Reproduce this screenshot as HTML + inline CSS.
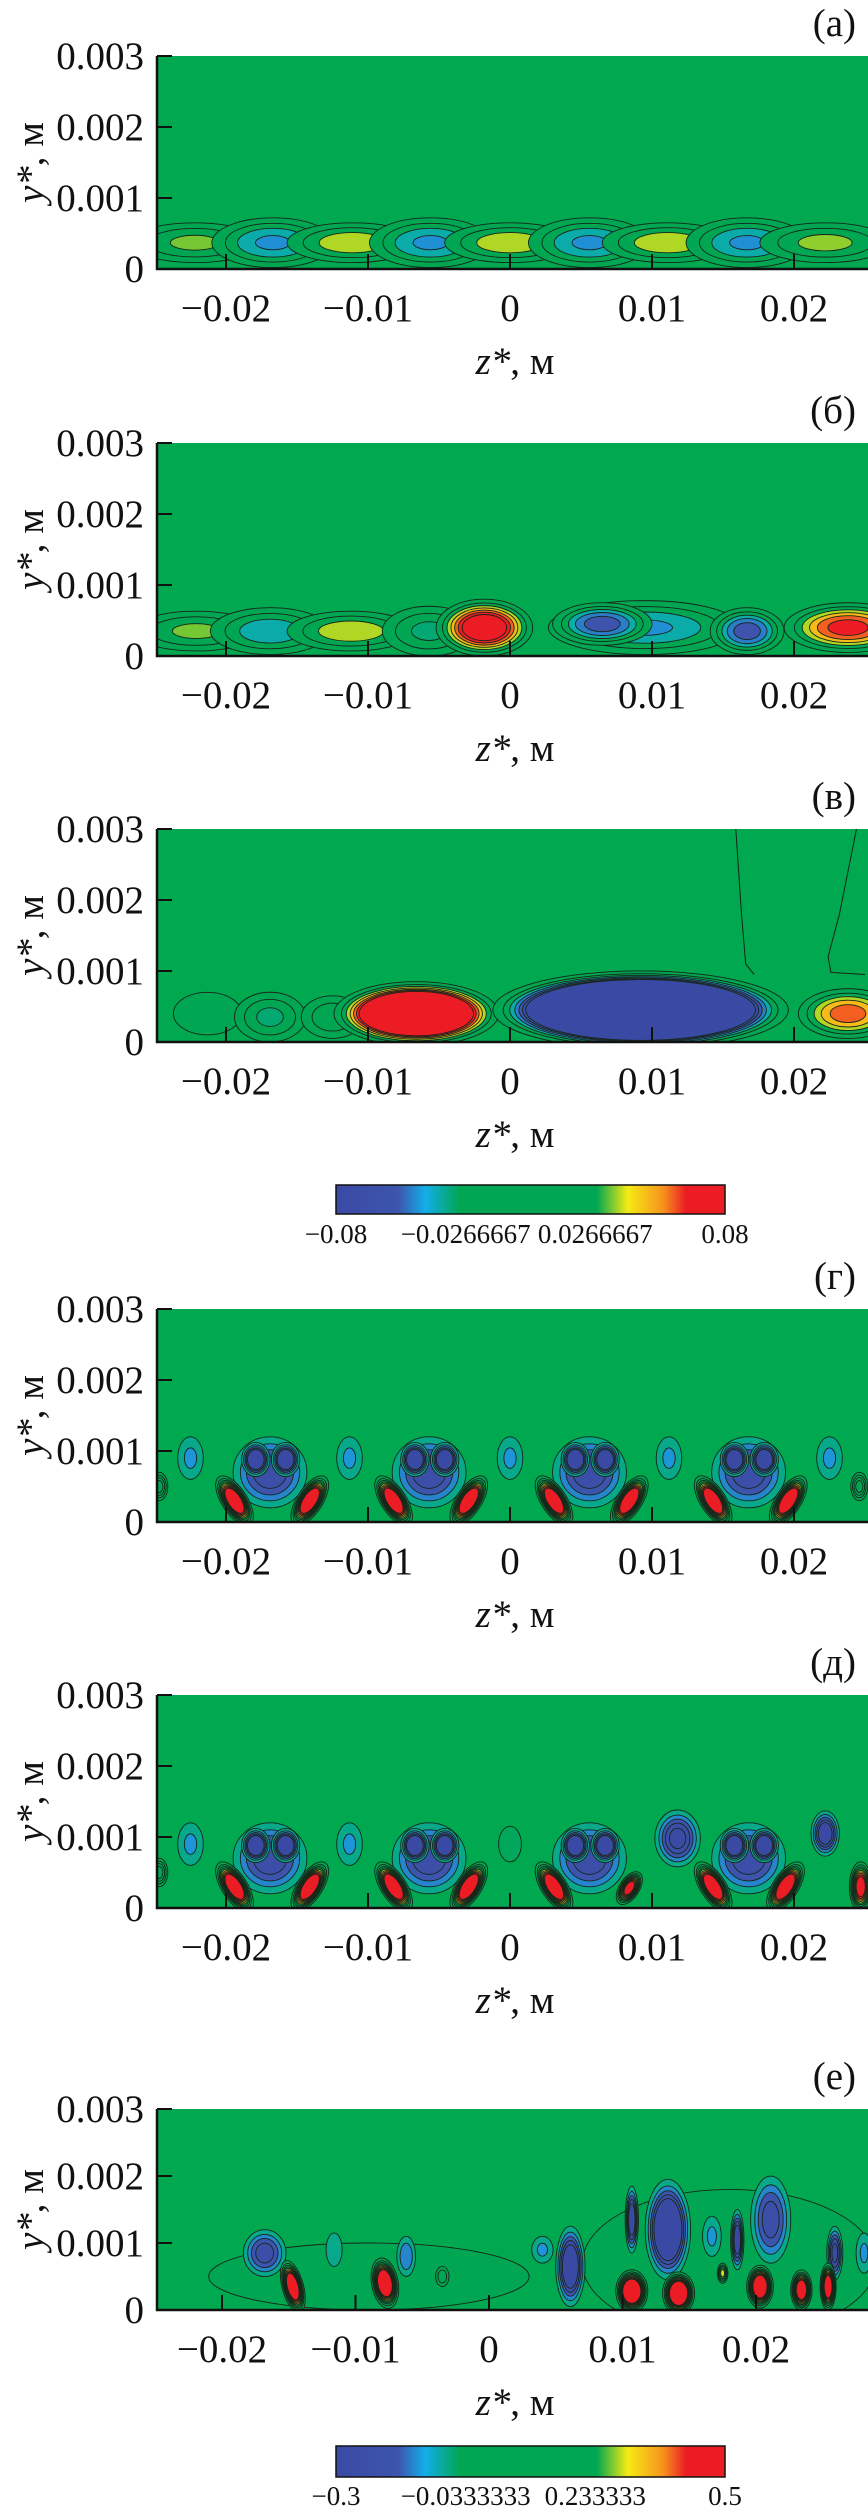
<!DOCTYPE html>
<html><head><meta charset="utf-8">
<style>
html,body{margin:0;padding:0;background:#fff;}
svg{display:block;}
text{font-family:"Liberation Serif",serif;fill:#111;}
</style></head>
<body>
<svg id="fig" width="868" height="2513" viewBox="0 0 868 2513" xmlns="http://www.w3.org/2000/svg">
<defs>
<linearGradient id="cbgrad" x1="0" x2="1" y1="0" y2="0">
<stop offset="0" stop-color="#3a4aa4"/><stop offset="0.16" stop-color="#3d55ad"/><stop offset="0.23" stop-color="#12aee8"/><stop offset="0.32" stop-color="#00a651"/><stop offset="0.67" stop-color="#00a651"/><stop offset="0.75" stop-color="#f5ea14"/><stop offset="0.84" stop-color="#f7941d"/><stop offset="0.9" stop-color="#ec1c24"/><stop offset="1" stop-color="#ec1c24"/>
</linearGradient>
</defs>
</svg>
<script>
// ---------- tick data ----------
const yTicks = [0, 0.001, 0.002, 0.003];
const yTickLabels = ["0", "0.001", "0.002", "0.003"];
const zTicks = [-0.02, -0.01, 0, 0.01, 0.02];
const zTickLabels = ["\u22120.02", "\u22120.01", "0", "0.01", "0.02"];
const cb1Values = [-0.08, -0.0266667, 0.0266667, 0.08];
const cb1Labels = ["\u22120.08", "\u22120.0266667", "0.0266667", "0.08"];
const cb2Values = [-0.3, -0.0333333, 0.233333, 0.5];
const cb2Labels = ["\u22120.3", "\u22120.0333333", "0.233333", "0.5"];
const panelLetters = ["(а)", "(б)", "(в)", "(г)", "(д)", "(е)"];

// ---------- panel (а) blobs ----------
const aZ = [-0.0222,-0.0167,-0.0111,-0.0056,0,0.0056,0.0111,0.0167,0.0222];
const aY = [0.00037,0.00037,0.00037,0.00037,0.00037,0.00037,0.00037,0.00037,0.00037];
const aW = [0.0046,0.0043,0.0046,0.0043,0.0046,0.0043,0.0046,0.0043,0.0046];
const aH = [0.00028,0.00035,0.00028,0.00035,0.00028,0.00035,0.00028,0.00035,0.00028];
const aV = [0.035,-0.045,0.04,-0.045,0.04,-0.045,0.04,-0.045,0.036];
const aA = [0,0,0,0,0,0,0,0,0];

// ---------- panel (б) blobs ----------
const bZ = [-0.0221,-0.0169,-0.0112,-0.0057,-0.0018,0.0095,0.0065,0.0167,0.0238];
const bY = [0.00035,0.00035,0.00035,0.00035,0.0004,0.0004,0.00045,0.00035,0.0004];
const bW = [0.0045,0.0042,0.0045,0.0033,0.0034,0.0068,0.0035,0.0026,0.0045];
const bH = [0.00028,0.00033,0.00028,0.00035,0.0004,0.00038,0.0003,0.00033,0.00035];
const bV = [0.035,-0.04,0.04,-0.035,0.1,-0.045,-0.06,-0.06,0.07];
const bA = [0,0,0,0,0,0,0,0,0];

// ---------- panel (в) blobs ----------
const vZ = [-0.0213,-0.0169,-0.0125,-0.0066,0.0092,0.0238];
const vY = [0.0004,0.00035,0.00035,0.0004,0.00045,0.0004];
const vW = [0.0024,0.0025,0.0022,0.0058,0.0104,0.0035];
const vH = [0.0003,0.00035,0.0003,0.00045,0.00055,0.00035];
const vV = [0.012,-0.035,0.03,0.25,-0.6,0.06];
const vA = [0,0,0,0,0,0];
const vLine1Z = [0.0159,0.0163,0.0166,0.0172];
const vLine1Y = [0.003,0.0018,0.0011,0.00095];
const vLine2Z = [0.0244,0.0232,0.0224,0.0226,0.025];
const vLine2Y = [0.003,0.0018,0.0012,0.00098,0.00095];

// ---------- panel (г) blobs ----------
const gZ = [-0.0225,-0.0113,0,0.0112,0.0225, -0.0169,-0.0057,0.0056,0.0168,
  -0.0179,-0.0158,-0.0067,-0.0046,0.0046,0.0067,0.0158,0.0179,
  -0.0194,-0.0141,-0.0082,-0.0029,0.0031,0.0084,0.0143,0.0196, -0.0247,0.0246];
const gY = [0.0009,0.0009,0.0009,0.0009,0.0009, 0.0007,0.0007,0.0007,0.0007,
  0.00088,0.00088,0.00088,0.00088,0.00088,0.00088,0.00088,0.00088,
  0.0003,0.0003,0.0003,0.0003,0.0003,0.0003,0.0003,0.0003, 0.0005,0.0005];
const gW = [0.0009,0.0009,0.0009,0.0009,0.0009, 0.0026,0.0026,0.0026,0.0026,
  0.001,0.001,0.001,0.001,0.001,0.001,0.001,0.001,
  0.0009,0.0009,0.0009,0.0009,0.0009,0.0009,0.0009,0.0009, 0.0006,0.0006];
const gH = [0.0003,0.0003,0.0003,0.0003,0.0003, 0.0005,0.0005,0.0005,0.0005,
  0.00024,0.00024,0.00024,0.00024,0.00024,0.00024,0.00024,0.00024,
  0.0004,0.0004,0.0004,0.0004,0.0004,0.0004,0.0004,0.0004, 0.0002,0.0002];
const gV = [-0.12,-0.12,-0.12,-0.12,-0.12, -0.26,-0.26,-0.26,-0.26,
  -0.45,-0.45,-0.45,-0.45,-0.45,-0.45,-0.45,-0.45,
  0.75,0.75,0.75,0.75,0.75,0.75,0.75,0.75, 0.25,0.25];
const gA = [0,0,0,0,0, 0,0,0,0, 0,0,0,0,0,0,0,0, -33,33,-33,33,-33,33,-33,33, 0,0];

// ---------- panel (д) blobs ----------
const dZ = [-0.0225,-0.0113,0,0.0118,0.0222, -0.0169,-0.0057,0.0056,0.0168,
  -0.0179,-0.0158,-0.0067,-0.0046,0.0046,0.0067,0.0158,0.0179,
  -0.0194,-0.0141,-0.0082,-0.0029,0.0031,0.0084,0.0143,0.0194, -0.0247,0.0247];
const dY = [0.0009,0.0009,0.0009,0.00098,0.00105, 0.0007,0.0007,0.0007,0.0007,
  0.00088,0.00088,0.00088,0.00088,0.00088,0.00088,0.00088,0.00088,
  0.0003,0.0003,0.0003,0.0003,0.0003,0.00028,0.0003,0.0003, 0.0005,0.0003];
const dW = [0.0009,0.0009,0.0008,0.0016,0.001, 0.0026,0.0026,0.0026,0.0026,
  0.001,0.001,0.001,0.001,0.001,0.001,0.001,0.001,
  0.0009,0.0009,0.0009,0.0009,0.0009,0.0007,0.0009,0.0009, 0.0006,0.0008];
const dH = [0.0003,0.0003,0.00025,0.0004,0.00032, 0.0005,0.0005,0.0005,0.0005,
  0.00024,0.00024,0.00024,0.00024,0.00024,0.00024,0.00024,0.00024,
  0.0004,0.0004,0.0004,0.0004,0.0004,0.00026,0.0004,0.0004, 0.0002,0.00035];
const dV = [-0.12,-0.12,-0.07,-0.3,-0.35, -0.26,-0.26,-0.26,-0.26,
  -0.45,-0.45,-0.45,-0.45,-0.45,-0.45,-0.45,-0.45,
  0.75,0.75,0.75,0.75,0.75,0.6,0.75,0.75, 0.25,0.6];
const dA = [0,0,0,0,0, 0,0,0,0, 0,0,0,0,0,0,0,0, -33,33,-33,33,-33,33,-33,33, 0,0];

// ---------- panel (е) blobs ----------
const eZ = [-0.009,0.018,-0.0168,-0.0147,-0.0116,-0.0078,-0.0062,-0.0035,0.004,0.0061,0.0134,0.0107,0.0107,0.0142,0.0167,0.0175,0.0186,0.0211,0.0203,0.0234,0.0259,0.0254,0.0281];
const eY = [0.0005,0.0007,0.00085,0.00035,0.0009,0.0004,0.0008,0.0005,0.0009,0.00065,0.0012,0.00135,0.00028,0.00025,0.0011,0.00055,0.00105,0.00135,0.00035,0.0003,0.00085,0.00035,0.00085];
const eW = [0.012,0.011,0.0016,0.0008,0.0006,0.001,0.0007,0.0005,0.0008,0.0011,0.0017,0.0005,0.0012,0.0012,0.0007,0.0004,0.0005,0.0015,0.001,0.0008,0.0006,0.0006,0.0006];
const eH = [0.0005,0.0011,0.00035,0.0004,0.00025,0.00038,0.0003,0.00015,0.0002,0.0006,0.00075,0.0005,0.00032,0.00032,0.0003,0.00015,0.00045,0.00065,0.00032,0.0003,0.0004,0.00035,0.0003];
const eV = [-0.05,-0.05,-0.25,0.75,-0.1,0.8,-0.15,0.15,-0.12,-0.4,-0.5,-0.35,0.9,0.9,-0.12,0.3,-0.35,-0.25,0.8,0.7,-0.3,0.7,-0.12];
const eA = [0,0,0,-15,0,-10,0,0,0,0,0,0,0,0,0,0,0,0,0,0,0,0,0];

// ---------- rendering ----------
const NS = "http://www.w3.org/2000/svg";
const svg = document.getElementById("fig");
const STOPS = [[0,[58,74,164]],[0.16,[61,85,173]],[0.25,[18,174,232]],[0.29,[0,166,81]],[0.69,[0,166,81]],[0.75,[245,234,20]],[0.84,[247,148,29]],[0.9,[236,28,36]],[1,[236,28,36]]];
function cmap(v, cb){
  let t = (v - cb.min)/(cb.max - cb.min);
  t = Math.max(0, Math.min(1, t));
  for (let i=1;i<STOPS.length;i++){
    if (t <= STOPS[i][0]){
      const a = STOPS[i-1], b = STOPS[i];
      const f = (t - a[0])/((b[0]-a[0])||1);
      const c = a[1].map((x,k)=>Math.round(x + (b[1][k]-x)*f));
      return "rgb("+c.join(",")+")";
    }
  }
  return "rgb(236,28,36)";
}
const CB1 = {min:-0.08, max:0.08};
const CB2 = {min:-0.3, max:0.5};

const panels = [
  {top:56,  h:213, zero:510, pz:14200, cb:CB1, Z:aZ,Y:aY,W:aW,H:aH,V:aV,A:aA},
  {top:443, h:213, zero:510, pz:14200, cb:CB1, Z:bZ,Y:bY,W:bW,H:bH,V:bV,A:bA},
  {top:829, h:213, zero:510, pz:14200, cb:CB1, Z:vZ,Y:vY,W:vW,H:vH,V:vV,A:vA},
  {top:1309,h:213, zero:510, pz:14200, cb:CB2, Z:gZ,Y:gY,W:gW,H:gH,V:gV,A:gA},
  {top:1695,h:213, zero:510, pz:14200, cb:CB2, Z:dZ,Y:dY,W:dW,H:dH,V:dV,A:dA},
  {top:2109,h:201, zero:489, pz:13350, cb:CB2, Z:eZ,Y:eY,W:eW,H:eH,V:eV,A:eA}
];
const LEFT = 157, RIGHT = 868;

function mk(tag, attrs, parent){
  const e = document.createElementNS(NS, tag);
  for (const k in attrs) e.setAttribute(k, attrs[k]);
  (parent||svg).appendChild(e);
  return e;
}

panels.forEach((p, pi) => {
  const bottom = p.top + p.h;
  const py = p.h / 0.003;
  const xs = z => p.zero + z * p.pz;
  const ys = y => bottom - y * py;
  const g = mk("g", {});
  
  
  const clip = mk("clipPath", {id:"clip"+pi}, g);
  mk("rect", {x:LEFT, y:p.top, width:RIGHT-LEFT, height:p.h}, clip);
  const bg = mk("rect", {x:LEFT, y:p.top, width:RIGHT-LEFT, height:p.h, fill:"#00a84f"}, g);
  
  
  const field = mk("g", {"clip-path":"url(#clip"+pi+")"}, g);
  
  
  const step = (p.cb.max - p.cb.min)/15;
  for (let i=0;i<p.Z.length;i++){
    const v = p.V[i], av = Math.abs(v), sg = Math.sign(v);
    const cx = xs(p.Z[i]), cy = ys(p.Y[i]);
    const RX = p.W[i]*p.pz, RY = p.H[i]*py;
    const lim = sg>0 ? p.cb.max : -p.cb.min;
    const n = Math.max(1, Math.floor(av/step));
    const bl = mk("g", {transform:"rotate("+p.A[i]+" "+cx.toFixed(1)+" "+cy.toFixed(1)+")"}, field);
    
    
    const denom = Math.log(av/step) > 0 ? Math.log(av/step) : 1;
    for (let k=1;k<=n;k++){
      const L = k*step;
      let s = k===1 ? 1 : Math.pow(Math.max(0, Math.log(av/L))/denom, 0.38);
      if (s <= 0.03) break;
      const lvl = Math.min(L + step*0.5, av);
      const el = mk("ellipse", {cx:cx.toFixed(1), cy:cy.toFixed(1), rx:(RX*s).toFixed(2), ry:(RY*s).toFixed(2),
        fill:cmap(sg*lvl, p.cb), stroke: L <= lim ? "#17261a" : "none", "stroke-width":"0.9"}, bl);
      
      
    }
  }
  if (pi === 2){
    [[vLine1Z,vLine1Y],[vLine2Z,vLine2Y]].forEach(([LZ,LY]) => {
      let d = "M" + LZ.map((z,j)=>xs(z).toFixed(1)+","+ys(LY[j]).toFixed(1)).join(" L");
      const pl = mk("path", {d:d, fill:"none", stroke:"#17261a", "stroke-width":"1"}, field);
      
      
    });
  }
  // axes
  const ax = mk("path", {d:"M"+LEFT+","+p.top+" V"+bottom+" H"+RIGHT, fill:"none", stroke:"#111", "stroke-width":"2.5"}, g);
  
  
  yTicks.forEach((t,j) => {
    const y = ys(t);
    const tk = mk("line", {x1:LEFT, x2:LEFT+15, y1:y, y2:y, stroke:"#111", "stroke-width":"2"}, g);
    
    
    const tl = mk("text", {x:144, y:(y+13).toFixed(1), "text-anchor":"end", "font-size":"39"}, g);
    
    
    tl.textContent = yTickLabels[j];
  });
  zTicks.forEach((t,j) => {
    const x = xs(t);
    const tk = mk("line", {x1:x, x2:x, y1:bottom, y2:bottom-15, stroke:"#111", "stroke-width":"2"}, g);
    
    
    const tl = mk("text", {x:x.toFixed(1), y:bottom+52, "text-anchor":"middle", "font-size":"39"}, g);
    
    
    tl.textContent = zTickLabels[j];
  });
  const xt = mk("text", {x:515, y:bottom+105, "text-anchor":"middle", "font-size":"39"}, g);
  
  
  const xt1 = mk("tspan", {"font-style":"italic"}, xt); xt1.textContent = "z*";
  const xt2 = mk("tspan", {}, xt); xt2.textContent = ", м";
  const ycy = p.top + p.h/2;
  const yt = mk("text", {transform:"translate(43,"+ycy+") rotate(-90)", x:0, y:0, "text-anchor":"middle", "font-size":"39"}, g);
  
  
  const yt1 = mk("tspan", {"font-style":"italic"}, yt); yt1.textContent = "y*";
  const yt2 = mk("tspan", {}, yt); yt2.textContent = ", м";
  const pl = mk("text", {x:856, y:p.top-20, "text-anchor":"end", "font-size":"39"}, g);
  
  
  pl.textContent = panelLetters[pi];
});

// colorbars
[[1185, 29, cb1Values, cb1Labels, CB1, 1243],[2446, 31, cb2Values, cb2Labels, CB2, 2505]].forEach(([y,h,vals,labs,cb,ly], ci) => {
  const g = mk("g", {});
  
  
  const r = mk("rect", {x:336, y:y, width:389, height:h, fill:"url(#cbgrad)", stroke:"#111", "stroke-width":"1.5"}, g);
  
  
  vals.forEach((v,j) => {
    const x = 336 + (v - cb.min)/(cb.max - cb.min)*389;
    const t = mk("text", {x:x.toFixed(1), y:ly, "text-anchor":"middle", "font-size":"27"}, g);
    
    
    t.textContent = labs[j];
  });
});
</script>
</body></html>
